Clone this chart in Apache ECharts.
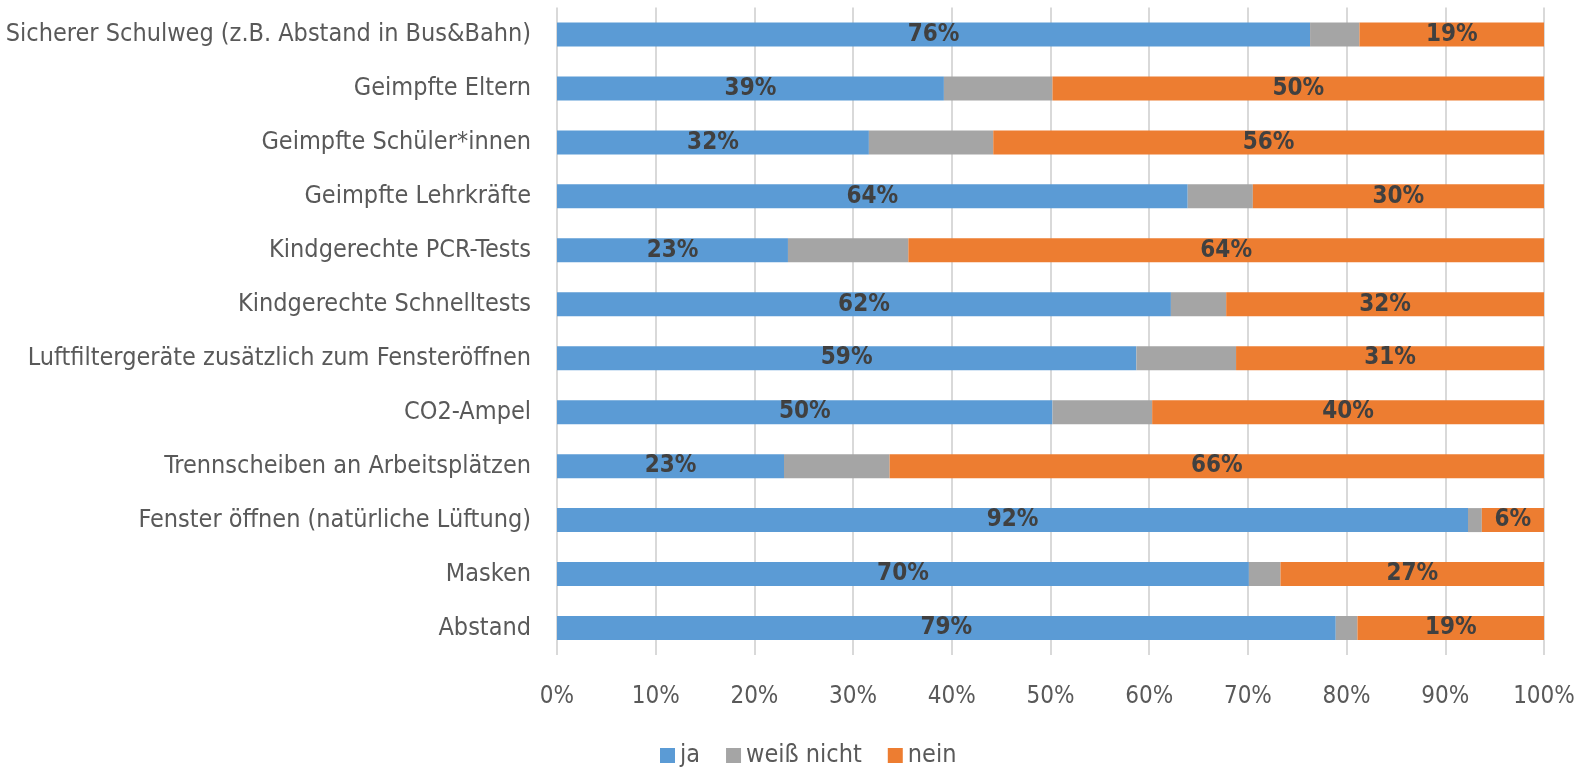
<!DOCTYPE html>
<html><head><meta charset="utf-8">
<script src="https://cdn.jsdelivr.net/npm/echarts@6/dist/echarts.min.js"></script>
<style>html,body{margin:0;padding:0;background:#fff}#c{width:1591px;height:767px}</style>
</head><body><div id="c"></div>
<script>
const categories = [
  "Sicherer Schulweg (z.B. Abstand in Bus&Bahn)",
  "Geimpfte Eltern",
  "Geimpfte Schüler*innen",
  "Geimpfte Lehrkräfte",
  "Kindgerechte PCR-Tests",
  "Kindgerechte Schnelltests",
  "Luftfiltergeräte zusätzlich zum Fensteröffnen",
  "CO2-Ampel",
  "Trennscheiben an Arbeitsplätzen",
  "Fenster öffnen (natürliche Lüftung)",
  "Masken",
  "Abstand"
];
const ja        = [76.3, 39.2, 31.6, 63.9, 23.4, 62.2, 58.7, 50.2, 23.0, 92.3, 70.1, 78.9];
const weissNicht= [ 5.0, 11.0, 12.6,  6.6, 12.2,  5.6, 10.1, 10.1, 10.7,  1.4,  3.2,  2.2];
const nein      = [18.7, 49.8, 55.8, 29.5, 64.4, 32.2, 31.2, 39.7, 66.3,  6.3, 26.7, 18.9];
const tickLabels = ["0%","10%","20%","30%","40%","50%","60%","70%","80%","90%","100%"];

const FONT = "'Liberation Sans Narrow','DejaVu Sans Condensed',sans-serif";
const chart = echarts.init(document.getElementById('c'));
const labelCfg = {
  show: true, position: 'inside', color: '#404040', fontWeight: 'bold',
  fontSize: 24, fontFamily: FONT,
  formatter: p => Math.round(p.value) + '%'
};
chart.setOption({
  animation: false,
  textStyle: {fontFamily: FONT},
  grid: {left: 557, right: 47, top: 7.5, bottom: 112, containLabel: false},
  legend: {
    top: 738, left: 655, itemWidth: 15, itemHeight: 15, itemGap: 26,
    icon: 'rect',
    textStyle: {color: '#595959', fontSize: 25, fontFamily: FONT, padding: [0,0,0,0]},
    data: ['ja', 'weiß nicht', 'nein']
  },
  xAxis: {
    type: 'value', min: 0, max: 100, interval: 10,
    axisLine: {show: false}, axisTick: {show: false},
    splitLine: {show: true, lineStyle: {color: '#D9D9D9', width: 2}},
    axisLabel: {color: '#595959', fontSize: 24, fontFamily: FONT, margin: 30,
      formatter: v => tickLabels[Math.round(v / 10)]}
  },
  yAxis: {
    type: 'category', data: categories, inverse: true,
    axisLine: {show: false}, axisTick: {show: false},
    axisLabel: {color: '#595959', fontSize: 25, fontFamily: FONT, margin: 26}
  },
  series: [
    {name: 'ja', type: 'bar', stack: 't', data: ja, barWidth: 24,
      itemStyle: {color: '#5B9BD5'}, label: labelCfg},
    {name: 'weiß nicht', type: 'bar', stack: 't', data: weissNicht, barWidth: 24,
      itemStyle: {color: '#A5A5A5'}, label: {show: false}},
    {name: 'nein', type: 'bar', stack: 't', data: nein, barWidth: 24,
      itemStyle: {color: '#ED7D31'}, label: labelCfg}
  ]
});
</script></body></html>
